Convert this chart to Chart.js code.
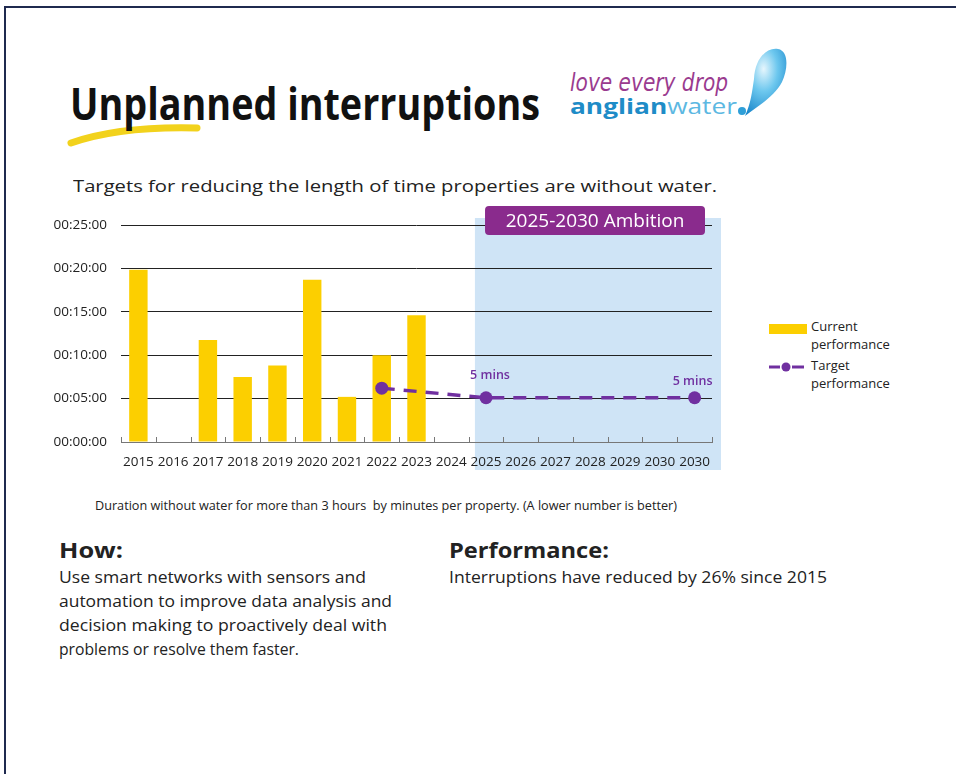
<!DOCTYPE html>
<html>
<head>
<meta charset="utf-8">
<script src="https://cdn.jsdelivr.net/npm/chart.js@4/dist/chart.umd.min.js"></script>
<style>
html,body{margin:0;padding:0;background:#fff;}
#page{position:relative;width:956px;height:774px;overflow:hidden;background:#fff;font-family:'Open Sans',sans-serif;color:#1a1a1a;}
.t{position:absolute;white-space:nowrap;transform-origin:0 50%;}
#c{position:absolute;left:0;top:0;}
</style>
</head>
<body>
<div id="page">
  <div style="position:absolute;left:4px;top:6px;width:952px;height:2px;background:#1f2a4f;"></div>
  <div style="position:absolute;left:4px;top:6px;width:2px;height:768px;background:#1f2a4f;"></div>

  <svg style="position:absolute;left:60px;top:118px;" width="160" height="40">
    <path d="M11 25 Q 60 8 137 10" stroke="#f2d21c" stroke-width="7" fill="none" stroke-linecap="round"/>
  </svg>
  <div class="t" data-w="470" style="left:70px;top:75px;font-size:44px;line-height:56px;font-weight:700;color:#111;">Unplanned interruptions</div>

  <svg style="position:absolute;left:560px;top:40px;" width="240" height="90">
    <defs>
      <radialGradient id="dg" cx="0.45" cy="0.3" r="0.75">
        <stop offset="0" stop-color="#e6f6fd"/>
        <stop offset="0.45" stop-color="#6cc7ee"/>
        <stop offset="1" stop-color="#1b88cc"/>
      </radialGradient>
    </defs>
    <text x="10" y="51" textLength="158" lengthAdjust="spacingAndGlyphs" font-family="'DejaVu Sans'" font-style="italic" font-weight="200" font-size="24" fill="#9a3b8f">love every drop</text>
    <text x="10" y="74" textLength="167" lengthAdjust="spacingAndGlyphs" font-family="'Open Sans'" font-size="22"><tspan font-weight="700" fill="#1e8cc7">anglian</tspan><tspan fill="#5cb8e2">water</tspan></text>
    <circle cx="182" cy="71" r="4" fill="#2f9fd8"/>
    <path d="M185 76 C 191 63, 192 52, 194 39 C 195 18, 207 7, 218 9 C 229 11, 228 29, 222 42 C 214 57, 198 66, 185 76 Z" fill="url(#dg)"/>
  </svg>

  <div class="t" data-w="644" style="left:73px;top:174px;font-size:17px;line-height:24px;color:#222;">Targets for reducing the length of time properties are without water.</div>

  <!-- legend -->
  <div style="position:absolute;left:769px;top:324px;width:38px;height:10px;background:#fccf00;"></div>
  <div class="t" style="left:811px;top:317px;font-size:13px;line-height:19px;color:#222;">Current</div>
  <div class="t" style="left:811px;top:335px;font-size:13px;line-height:19px;color:#222;">performance</div>
  <svg style="position:absolute;left:766px;top:360px;" width="42" height="14">
    <line x1="3" y1="7" x2="14" y2="7" stroke="#7030a0" stroke-width="3"/>
    <line x1="26" y1="7" x2="38" y2="7" stroke="#7030a0" stroke-width="3"/>
    <circle cx="20" cy="7" r="4.5" fill="#7030a0"/>
  </svg>
  <div class="t" style="left:811px;top:356px;font-size:13px;line-height:19px;color:#222;">Target</div>
  <div class="t" style="left:811px;top:374px;font-size:13px;line-height:19px;color:#222;">performance</div>

  <div class="t" data-w="582" style="left:95px;top:496px;font-size:13px;line-height:18px;color:#222;">Duration without water for more than 3 hours&nbsp; by minutes per property. (A lower number is better)</div>

  <div class="t" data-w="64" style="left:59px;top:535px;font-size:22px;line-height:28px;font-weight:700;color:#222;">How:</div>
  <div class="t" data-w="307" style="left:59px;top:565px;font-size:17px;line-height:24px;color:#222;">Use smart networks with sensors and</div>
  <div class="t" data-w="333" style="left:59px;top:589px;font-size:17px;line-height:24px;color:#222;">automation to improve data analysis and</div>
  <div class="t" data-w="328" style="left:59px;top:613px;font-size:17px;line-height:24px;color:#222;">decision making to proactively deal with</div>
  <div class="t" data-w="240" style="left:59px;top:637px;font-size:17px;line-height:24px;color:#222;">problems or resolve them faster.</div>

  <div class="t" data-w="160" style="left:449px;top:535px;font-size:22px;line-height:28px;font-weight:700;color:#222;">Performance:</div>
  <div class="t" data-w="378" style="left:449px;top:565px;font-size:17px;line-height:24px;color:#222;">Interruptions have reduced by 26% since 2015</div>

  <canvas id="c" width="956" height="774"></canvas>
</div>
<script>
// ---- data ----
const categories = ['2015','2016','2017','2018','2019','2020','2021','2022','2023','2024','2025','2026','2027','2028','2029','2030','2030'];
// current performance, minutes per property
const currentPerformance = [19.85, null, 11.75, 7.5, 8.8, 18.7, 5.2, 10.0, 14.6, null, null, null, null, null, null, null, null];
// target performance, minutes per property
const targetPerformance = [null, null, null, null, null, null, null, 6.2, null, null, 5.1, null, null, null, null, null, 5.1];
const yTickLabels = ['00:00:00','00:05:00','00:10:00','00:15:00','00:20:00','00:25:00'];
const ambitionLabel = '2025-2030 Ambition';
const ambitionStart = '2025';
const targetLabels = ['5 mins', '5 mins'];
const targetLabelIdx = [10, 16];

function fitText(){
  document.querySelectorAll('[data-w]').forEach(el=>{
    el.style.transform='none';
    const w = el.getBoundingClientRect().width;
    el.style.transform='scaleX(' + (parseFloat(el.dataset.w)/w) + ')';
  });
}
fitText();
if (document.fonts && document.fonts.ready) document.fonts.ready.then(fitText);

const decor = {
  id: 'decor',
  beforeDraw(chart){
    const {ctx, chartArea:a, scales:{x, y}} = chart;
    const step = x.width / categories.length;
    const left = x.getPixelForValue(categories.indexOf(ambitionStart)) - step*0.32;
    const top = y.getPixelForValue(25) - 7;
    ctx.save();
    ctx.fillStyle = '#cfe4f6';
    ctx.fillRect(left, top, a.right + 9 - left, a.bottom + 28 - top);
    ctx.restore();
  },
  afterDatasetsDraw(chart){
    const {ctx} = chart;
    const meta = chart.getDatasetMeta(0);
    ctx.save();
    ctx.fillStyle = '#7030a0';
    ctx.font = '600 12.5px "Open Sans"';
    ctx.textAlign = 'center';
    ctx.textBaseline = 'middle';
    const offs = [[4,-22],[-2,-16]];
    targetLabelIdx.forEach((idx,i)=>{
      const p = meta.data[idx];
      ctx.fillText(targetLabels[i], p.x + offs[i][0], p.y + offs[i][1]);
    });
    ctx.restore();
  },
  afterDraw(chart){
    const {ctx, chartArea:a, scales:{x, y}} = chart;
    const step = x.width / categories.length;
    ctx.save();
    ctx.strokeStyle = '#777';
    ctx.lineWidth = 1;
    for (let i = 0; i <= categories.length; i++){
      const px = Math.round(x.left + i*step) + 0.5;
      ctx.beginPath(); ctx.moveTo(px, a.bottom - 5); ctx.lineTo(px, a.bottom); ctx.stroke();
    }
    const bx = x.getPixelForValue(categories.indexOf(ambitionStart)) - 1;
    const bw = a.right - 7 - bx;
    const by = y.getPixelForValue(25) - 19;
    const bh = 29;
    ctx.fillStyle = '#8a2b8d';
    ctx.beginPath();
    ctx.roundRect(bx, by, bw, bh, 4);
    ctx.fill();
    ctx.fillStyle = '#fff';
    ctx.font = '19px "Open Sans"';
    ctx.textAlign = 'center';
    ctx.textBaseline = 'middle';
    ctx.fillText(ambitionLabel, bx + bw/2, by + bh/2 + 1);
    ctx.restore();
  }
};

new Chart(document.getElementById('c'), {
  type: 'bar',
  data: {
    labels: categories,
    datasets: [
      {
        type: 'line',
        label: 'Target performance',
        data: targetPerformance,
        borderColor: '#7030a0',
        backgroundColor: '#7030a0',
        borderWidth: 3.5,
        borderDash: [13, 9],
        pointRadius: 6.5,
        pointHoverRadius: 6.5,
        pointBackgroundColor: '#7030a0',
        pointBorderWidth: 0,
        spanGaps: true,
        tension: 0,
        order: 0
      },
      {
        type: 'bar',
        label: 'Current performance',
        data: currentPerformance,
        backgroundColor: '#fccf00',
        categoryPercentage: 1,
        barPercentage: 0.53,
        order: 1
      }
    ]
  },
  options: {
    responsive: false,
    animation: false,
    layout: { padding: { left: 40, right: 244, top: 225, bottom: 302 } },
    plugins: { legend: { display: false }, tooltip: { enabled: false } },
    scales: {
      x: {
        grid: { display: false, drawTicks: false },
        border: { display: true, color: '#777', width: 1 },
        ticks: { color: '#222', font: { family: 'Open Sans', size: 13.5 }, padding: 12, maxRotation: 0, autoSkip: false },
        afterFit(s){ s.height = 30; }
      },
      y: {
        min: 0, max: 25,
        ticks: {
          stepSize: 5, padding: 14, color: '#222',
          font: { family: 'Open Sans', size: 13.5 },
          callback: (v, i) => yTickLabels[i]
        },
        grid: { color: '#222', lineWidth: 1, drawTicks: false },
        border: { display: false },
        afterFit(s){ s.width = 81; }
      }
    }
  },
  plugins: [decor]
});
</script>
</body>
</html>
